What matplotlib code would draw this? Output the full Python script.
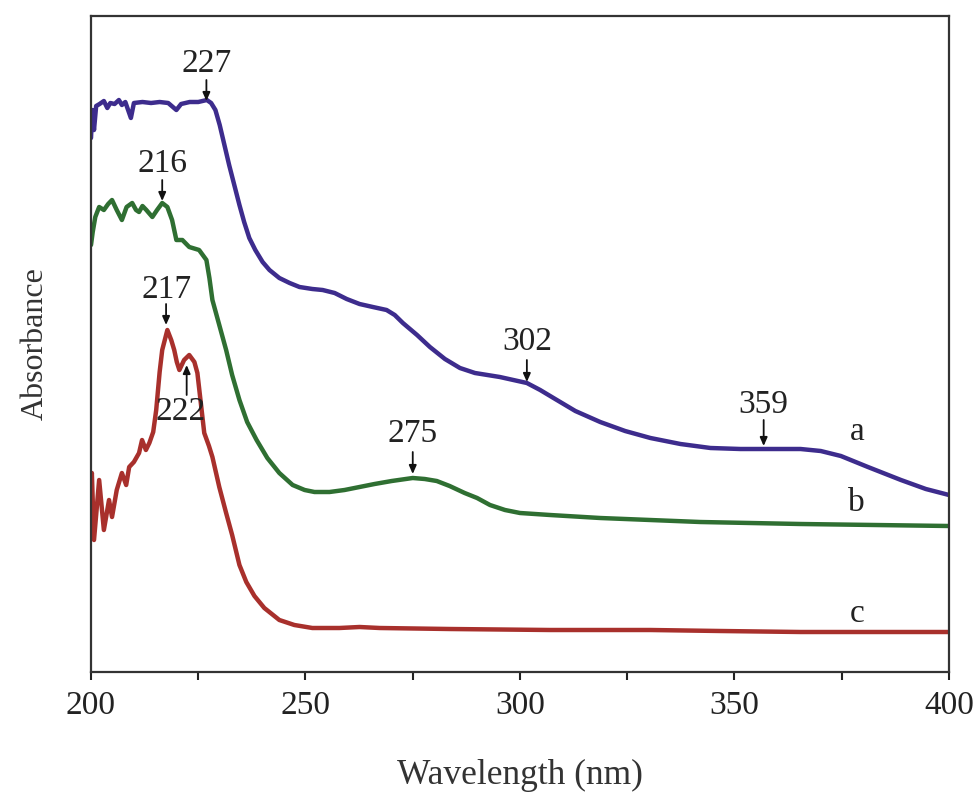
import matplotlib
matplotlib.use("Agg")
import matplotlib.pyplot as plt
import numpy as np

plt.rcParams['font.family'] = ['Liberation Serif', 'DejaVu Serif']

# Curve a (purple)
wl_a = [200.0, 200.3, 200.7, 201.2, 202.0, 203.0, 203.8, 204.5, 205.5, 206.5, 207.2, 208.0,
        209.3, 210.0, 212.0, 214.0, 216.0, 218.0, 219.9, 221.0, 223.0, 225.0, 227.0, 228.0,
        229.0, 230.0, 231.1, 232.2, 233.4, 234.6, 235.7, 236.9, 238.3, 240.0, 241.6, 243.9,
        246.3, 248.6, 251.6, 254.0, 256.8, 259.6, 262.6, 265.7, 268.9, 270.8, 272.7, 276.0,
        279.0, 282.5, 286.0, 289.5, 295.3, 301.6, 304.7, 308.2, 312.9, 318.7, 324.5, 330.4,
        337.4, 344.4, 351.4, 365.4, 370.1, 374.8, 381.1, 388.8, 394.6, 400.0]
abs_a = [534, 562, 542, 566, 568, 571, 564, 569, 568, 572, 567, 570,
         554, 569, 570, 569, 570, 569, 562, 568, 570, 570, 572, 569,
         562, 547, 527, 507, 487, 467, 450, 434, 422, 410, 402, 394,
         389, 385, 383, 382, 379, 373, 368, 365, 362, 357, 349, 337,
         325, 313, 304, 299, 295, 289, 282, 273, 261, 250, 241, 234,
         228, 224, 223, 223, 221, 216, 205, 192, 183, 177]

# Curve b (green)
wl_b = [200.0, 200.4, 201.0, 201.9, 203.0, 204.0, 204.9, 206.0, 207.2, 208.3, 209.6, 210.5,
        211.2, 212.0, 212.9, 214.3, 215.4, 216.6, 217.8, 218.9, 219.5, 219.9, 221.3, 222.9,
        225.2, 226.9, 227.6, 228.3, 229.9, 231.5, 232.9, 234.6, 236.4, 238.6, 241.1, 243.9,
        247.0, 249.8, 252.1, 255.6, 259.1, 262.6, 266.1, 270.1, 275.0, 277.8, 280.6, 283.6,
        287.1, 290.0, 293.0, 296.5, 300.0, 307.0, 318.7, 342.0, 365.4, 400.0]
abs_b = [427, 440, 455, 465, 462, 468, 472, 462, 452, 465, 469, 462,
         460, 466, 462, 455, 462, 469, 465, 452, 440, 432, 432, 425,
         422, 412, 394, 372, 347, 322, 297, 272, 250, 232, 214, 199,
         187, 182, 180, 180, 182, 185, 188, 191, 194, 193, 191, 186,
         179, 174, 167, 162, 159, 157, 154, 150, 148, 146]

# Curve c (red)
wl_c = [200.0, 200.2, 200.7, 201.9, 203.0, 204.2, 204.9, 206.0, 207.2, 208.2, 208.9, 210.0,
        211.2, 211.9, 212.8, 213.6, 214.5, 215.2, 216.0, 216.6, 217.8, 218.7, 219.4, 220.0,
        220.6, 221.7, 222.9, 224.1, 224.8, 226.4, 227.5, 228.3, 229.9, 231.5, 232.9, 234.6,
        236.2, 238.1, 240.4, 243.9, 247.4, 251.6, 257.9, 262.6, 267.3, 283.6, 307.0, 330.4,
        346.7, 365.4, 400.0]
abs_c = [182, 199, 132, 192, 142, 172, 155, 182, 199, 187, 205, 210,
         219, 232, 222, 229, 240, 262, 300, 322, 342, 332, 322, 310,
         302, 312, 317, 310, 299, 239, 226, 215, 185, 159, 137, 107,
         90, 76, 64, 52, 47, 44, 44, 45, 44, 43, 42, 42,
         41, 40, 40]

# Peak annotations: label, arrow x, text x, text y, arrow tail y, arrow head y
peak_labels = ['227', '216', '217', '222', '275', '302', '359']
peak_x = [226.9, 216.6, 217.5, 222.3, 275.0, 301.6, 356.8]
text_x = [226.9, 216.6, 217.5, 221.0, 275.0, 301.6, 356.8]
text_y = [608, 508, 382, 260, 238, 330, 267]
tail_y = [592, 492, 368, 277, 220, 312, 252]
head_y = [571, 471, 347, 307, 198, 290, 226]

curve_labels = ['a', 'b', 'c']
curve_label_x = [378.5, 378.5, 378.7]
curve_label_y = [240, 169, 58]

fig = plt.figure(figsize=(9.79, 7.92), dpi=100)
ax = fig.add_axes([91/979, 1 - 672/792, (949-91)/979, (672-16)/792])

for wl, ab, col in [(wl_a, abs_a, '#3d2c8d'), (wl_b, abs_b, '#2f6f32'), (wl_c, abs_c, '#a8302c')]:
    ax.plot(wl, ab, color=col, lw=3.2, solid_joinstyle='round', solid_capstyle='round')

fs = 24
for lab, px, tx, ty, t0, t1 in zip(peak_labels, peak_x, text_x, text_y, tail_y, head_y):
    ax.text(tx, ty, lab, ha='center', va='center', fontsize=fs, color='#222222')
    ax.annotate('', xy=(px, t1), xytext=(px, t0),
                arrowprops=dict(arrowstyle='-|>,head_length=0.5,head_width=0.22',
                                color='#111111', lw=1.3, shrinkA=0, shrinkB=0))

for lab, x, y in zip(curve_labels, curve_label_x, curve_label_y):
    ax.text(x, y, lab, ha='center', va='center', fontsize=fs, color='#222222')

ax.set_xlim(200, 400)
ax.set_ylim(0, 656)
ax.set_xticks([200, 250, 300, 350, 400])
ax.set_xticks([225, 275, 325, 375], minor=True)
ax.set_yticks([])
ax.tick_params(axis='x', which='both', direction='out', length=6, width=1.5,
               labelsize=fs, pad=7, colors='#222222')
for s in ax.spines.values():
    s.set_linewidth(1.6)
    s.set_color('#333333')

ax.set_xlabel('Wavelength (nm)', fontsize=25.5, labelpad=28, color='#333333')
ax.set_ylabel('Absorbance', fontsize=23, labelpad=30, color='#333333')

fig.savefig('out.png', dpi=100)
